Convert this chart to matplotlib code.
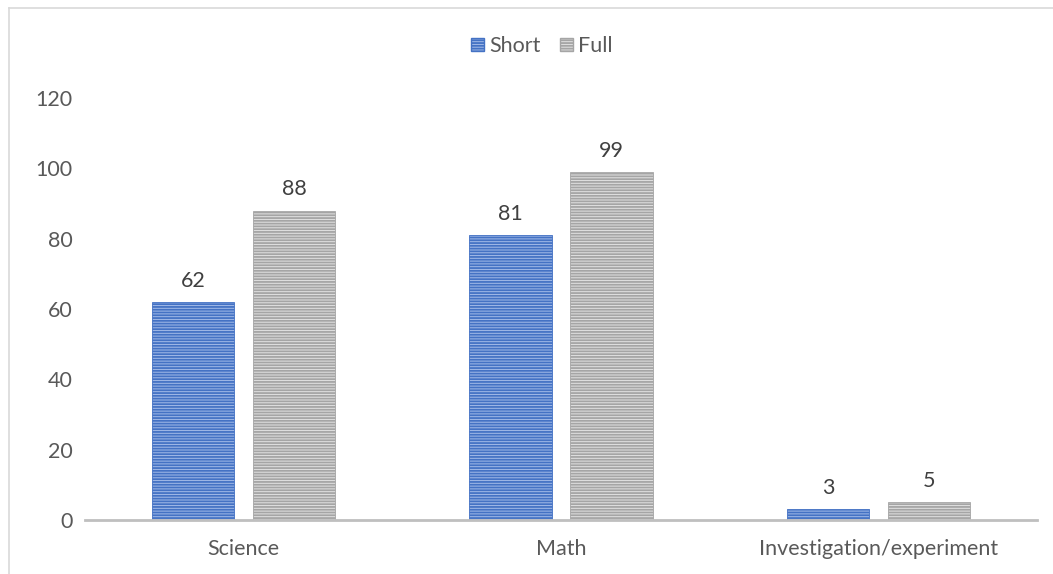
import numpy as np
import matplotlib.pyplot as plt
from matplotlib.patches import Patch

categories = ["Science", "Math", "Investigation/experiment"]
short_vals = [62, 81, 3]
full_vals = [88, 99, 5]
y_ticks = [0, 20, 40, 60, 80, 100, 120]

plt.rcParams['font.family'] = ['Lato', 'DejaVu Sans']
plt.rcParams['hatch.linewidth'] = 1.3

W, H = 1053, 574
fig = plt.figure(figsize=(W / 100, H / 100), dpi=100)
ax = fig.add_axes([85 / W, 1 - 520 / H, (1037 - 85) / W, (520 - 98) / H])

x = np.arange(len(categories))
bw = 0.26
off = 0.159
fs = 15.5

blue_face, blue_line = '#A3BBE8', '#4472C4'
gray_face, gray_line = '#E2E2E2', '#A5A5A5'

b1 = ax.bar(x - off, short_vals, bw, color=blue_face, edgecolor=blue_line,
            hatch='------', linewidth=0.6)
b2 = ax.bar(x + off, full_vals, bw, color=gray_face, edgecolor=gray_line,
            hatch='------', linewidth=0.6)

# value labels above bars
for bars, vals in ((b1, short_vals), (b2, full_vals)):
    for rect, v in zip(bars, vals):
        ax.annotate(str(v), (rect.get_x() + rect.get_width() / 2, v),
                    xytext=(0, 8), textcoords='offset points',
                    ha='center', va='bottom', fontsize=fs, color='#404040')

ax.set_xlim(-0.5, 2.5)
ax.set_ylim(0, 120)
ax.set_yticks(y_ticks)
ax.set_xticks(x)
ax.set_xticklabels(categories)
ax.tick_params(axis='both', length=0, labelsize=fs, colors='#595959')
ax.tick_params(axis='y', pad=9)
ax.tick_params(axis='x', pad=14)
for s in ['top', 'right', 'left']:
    ax.spines[s].set_visible(False)
ax.spines['bottom'].set_color('#BFBFBF')
ax.spines['bottom'].set_linewidth(2)

handles = [Patch(facecolor=blue_face, edgecolor=blue_line, hatch='------', label='Short'),
           Patch(facecolor=gray_face, edgecolor=gray_line, hatch='------', label='Full')]
fig.legend(handles=handles, loc='center', bbox_to_anchor=(542 / W, 1 - 46 / H),
           ncol=2, frameon=False, fontsize=fs, handlelength=0.6, handleheight=0.6,
           handletextpad=0.25, columnspacing=0.9, labelcolor='#595959')

# chart frame (only top and left visible)
fig.add_artist(plt.Line2D([8.5 / W, 8.5 / W], [0, 1 - 7.5 / H], transform=fig.transFigure,
                          color='#D9D9D9', lw=1.2))
fig.add_artist(plt.Line2D([8.5 / W, 1], [1 - 7.5 / H, 1 - 7.5 / H], transform=fig.transFigure,
                          color='#D9D9D9', lw=1.2))

fig.text(10 / W, 1 - 3 / H, "Science", fontsize=fs, fontweight='bold', ha='left', va='bottom')

fig.savefig('out.png', dpi=100)
